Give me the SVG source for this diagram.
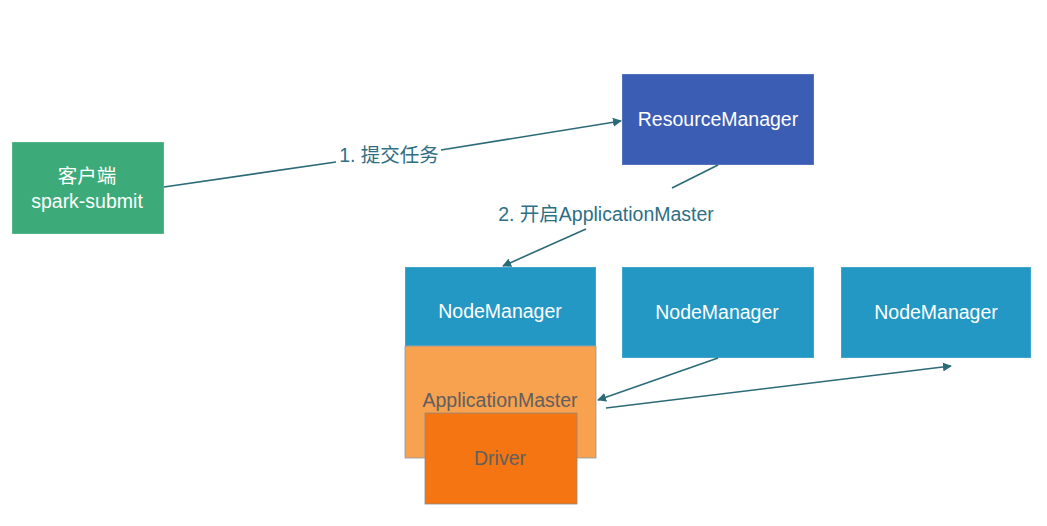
<svg xmlns="http://www.w3.org/2000/svg" width="1047" height="526" viewBox="0 0 1047 526">
<style>
.box{stroke:#ffffff;stroke-opacity:0.25;stroke-width:1}
.t{font-family:"Liberation Sans","Noto Sans CJK SC",sans-serif;font-size:19.5px;text-anchor:middle;dominant-baseline:central}
.w{fill:#ffffff}
.g{fill:#606060}
.lab{font-family:"Liberation Sans","Noto Sans CJK SC",sans-serif;font-size:19.5px;fill:#2e6f86;text-anchor:middle;dominant-baseline:central}
.c{stroke:#2b6b78;stroke-width:1.6;fill:none}
</style>
<defs>
<marker id="ah" viewBox="0 0 10 10" refX="9" refY="5" markerWidth="9" markerHeight="9" markerUnits="userSpaceOnUse" orient="auto">
<path d="M0,0 L10,5 L0,10 z" fill="#2b6b78"/>
</marker>
</defs>
<rect width="1047" height="526" fill="#ffffff"/>
<g id="client">
<rect class="box" x="12" y="142" width="152" height="92" fill="#3dab79"/>
<text class="t w" x="87" y="176">客户端</text>
<text class="t w" x="87" y="201">spark-submit</text>
</g>
<g id="resourcemanager">
<rect class="box" x="622" y="74" width="192" height="91" fill="#3b5db3"/>
<text class="t w" x="718" y="119">ResourceManager</text>
</g>
<g id="nodemanager1">
<rect class="box" x="405" y="267" width="191" height="79" fill="#2498c4"/>
<text class="t w" x="500" y="311">NodeManager</text>
</g>
<g id="applicationmaster">
<rect x="405" y="346" width="191" height="112" fill="#f8a14f" stroke="#8a9aa8" stroke-width="0.8"/>
<text class="t g" x="500" y="400">ApplicationMaster</text>
</g>
<g id="driver">
<rect x="425" y="413" width="152" height="91" fill="#f47511" stroke="#8a8a8a" stroke-width="0.8"/>
<text class="t g" x="500" y="458">Driver</text>
</g>
<g id="nodemanager2">
<rect class="box" x="622" y="267" width="192" height="91" fill="#2498c4"/>
<text class="t w" x="717" y="312">NodeManager</text>
</g>
<g id="nodemanager3">
<rect class="box" x="841" y="267" width="190" height="91" fill="#2498c4"/>
<text class="t w" x="936" y="312">NodeManager</text>
</g>
<g id="connectors">
<path class="c" d="M164,187 L336,162"/>
<path class="c" d="M441,150 L621,121" marker-end="url(#ah)"/>
<text class="lab" x="389" y="155">1. 提交任务</text>
<path class="c" d="M718,165 L672,188"/>
<path class="c" d="M586,229 L503,266" marker-end="url(#ah)"/>
<text class="lab" x="606" y="214">2. 开启ApplicationMaster</text>
<path class="c" d="M718,358 L598,400" marker-end="url(#ah)"/>
<path class="c" d="M606,408 L951,366" marker-end="url(#ah)"/>
</g>
</svg>
